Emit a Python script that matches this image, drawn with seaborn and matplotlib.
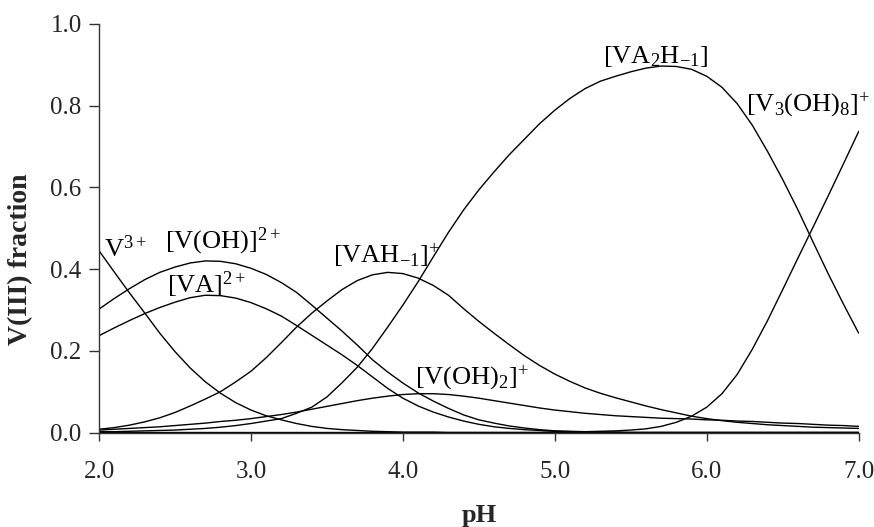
import numpy as np
import pandas as pd
import matplotlib
matplotlib.use("Agg")
import matplotlib.pyplot as plt
import seaborn as sns

# ========== PODACI (ocitano sa grafika) ==========
ph = np.round(np.linspace(2.0, 7.0, 51), 1)

v3 = [0.445, 0.393, 0.342, 0.293, 0.243, 0.198, 0.158, 0.124, 0.096, 0.073,
      0.055, 0.041, 0.031, 0.022, 0.015, 0.010, 0.007, 0.005, 0.003, 0.002,
      0.001, 0.001, 0.001, 0.0, 0.0, 0.0, 0.0, 0.0, 0.0, 0.0,
      0.0, 0.0, 0.0, 0.0, 0.0, 0.0, 0.0, 0.0, 0.0, 0.0,
      0.0, 0.0, 0.0, 0.0, 0.0, 0.0, 0.0, 0.0, 0.0, 0.0, 0.0]

voh = [0.302, 0.328, 0.352, 0.374, 0.392, 0.405, 0.415, 0.420, 0.419, 0.413,
       0.402, 0.387, 0.367, 0.343, 0.312, 0.280, 0.248, 0.214, 0.178, 0.148,
       0.121, 0.097, 0.077, 0.059, 0.043, 0.031, 0.023, 0.016, 0.011, 0.007,
       0.004, 0.003, 0.002, 0.001, 0.001, 0.0, 0.0, 0.0, 0.0, 0.0,
       0.0, 0.0, 0.0, 0.0, 0.0, 0.0, 0.0, 0.0, 0.0, 0.0, 0.0]

va = [0.237, 0.256, 0.274, 0.291, 0.306, 0.319, 0.330, 0.336, 0.335, 0.329,
      0.318, 0.303, 0.285, 0.262, 0.238, 0.214, 0.190, 0.164, 0.136, 0.108,
      0.084, 0.065, 0.050, 0.038, 0.028, 0.020, 0.014, 0.010, 0.007, 0.005,
      0.003, 0.002, 0.001, 0.001, 0.0, 0.0, 0.0, 0.0, 0.0, 0.0,
      0.0, 0.0, 0.0, 0.0, 0.0, 0.0, 0.0, 0.0, 0.0, 0.0, 0.0]

vah = [0.008, 0.012, 0.018, 0.026, 0.036, 0.049, 0.065, 0.082, 0.100, 0.124,
       0.150, 0.183, 0.220, 0.258, 0.292, 0.322, 0.350, 0.372, 0.386, 0.392,
       0.389, 0.378, 0.360, 0.336, 0.303, 0.272, 0.243, 0.215, 0.188, 0.164,
       0.143, 0.125, 0.109, 0.096, 0.085, 0.075, 0.065, 0.056, 0.048, 0.040,
       0.034, 0.029, 0.025, 0.022, 0.019, 0.017, 0.015, 0.013, 0.012, 0.011, 0.010]

voh2 = [0.006, 0.008, 0.010, 0.012, 0.014, 0.017, 0.020, 0.023, 0.027, 0.030,
        0.034, 0.039, 0.044, 0.050, 0.057, 0.064, 0.071, 0.078, 0.084, 0.089,
        0.093, 0.095, 0.095, 0.093, 0.089, 0.084, 0.078, 0.072, 0.066, 0.060,
        0.055, 0.051, 0.047, 0.044, 0.041, 0.039, 0.037, 0.035, 0.034, 0.033,
        0.031, 0.030, 0.028, 0.027, 0.025, 0.023, 0.022, 0.020, 0.018, 0.017, 0.015]

va2h = [0.002, 0.002, 0.003, 0.004, 0.005, 0.006, 0.008, 0.010, 0.013, 0.017,
        0.022, 0.028, 0.034, 0.047, 0.062, 0.087, 0.122, 0.160, 0.206, 0.258,
        0.312, 0.369, 0.430, 0.490, 0.545, 0.594, 0.638, 0.680, 0.718, 0.756,
        0.789, 0.818, 0.842, 0.860, 0.872, 0.883, 0.892, 0.897, 0.896, 0.889,
        0.872, 0.845, 0.805, 0.752, 0.688, 0.619, 0.545, 0.466, 0.388, 0.314, 0.243]

v3oh8 = [0.0, 0.0, 0.0, 0.0, 0.0, 0.0, 0.0, 0.0, 0.0, 0.0,
         0.0, 0.0, 0.0, 0.0, 0.0, 0.0, 0.0, 0.0, 0.0, 0.0,
         0.0, 0.0, 0.0, 0.0, 0.0, 0.0, 0.0, 0.0, 0.0, 0.0,
         0.001, 0.001, 0.002, 0.003, 0.004, 0.006, 0.009, 0.015, 0.025, 0.040,
         0.062, 0.095, 0.142, 0.204, 0.274, 0.350, 0.427, 0.503, 0.580, 0.658, 0.737]

# oznake vrsta i gde stoje (pH, udeo)
species_labels = [r"V$^{3+}$", r"[V(OH)]$^{2+}$", r"[VA]$^{2+}$", r"[VAH$_{\mathregular{-1}}$]$^{+}$",
                  r"[V(OH)$_2$]$^{+}$", r"[VA$_2$H$_{\mathregular{-1}}$]", r"[V$_3$(OH)$_8$]$^{+}$"]
label_pos = [(2.03, 0.431), (2.436, 0.451), (2.447, 0.341), (3.54, 0.413),
             (4.08, 0.118), (5.32, 0.905), (6.26, 0.786)]

x_ticks = [2.0, 3.0, 4.0, 5.0, 6.0, 7.0]
y_ticks = [0.0, 0.2, 0.4, 0.6, 0.8, 1.0]

df = pd.DataFrame({"pH": ph, "V3": v3, "VOH": voh, "VA": va, "VAH": vah,
                   "VOH2": voh2, "VA2H": va2h, "V3OH8": v3oh8})
long = df.melt(id_vars="pH", var_name="species", value_name="fraction")

# ========== STIL ==========
sns.set_style("ticks")
plt.rcParams["font.family"] = ["Liberation Serif", "DejaVu Serif"]
plt.rcParams["mathtext.fontset"] = "custom"
plt.rcParams["mathtext.rm"] = "Liberation Serif"
plt.rcParams["mathtext.it"] = "Liberation Serif:italic"
plt.rcParams["mathtext.bf"] = "Liberation Serif:bold"

fig = plt.figure(figsize=(8.74, 5.27), dpi=100)
ax = fig.add_axes([0.1133, 0.1793, 0.8692, 0.7752])

sns.lineplot(data=long, x="pH", y="fraction", hue="species",
             palette=["black"] * 7, linewidth=1.0, legend=False, ax=ax)

for txt, (x, y) in zip(species_labels, label_pos):
    ax.text(x, y, txt, fontsize=19, ha="left", va="baseline", color="black")

ax.set_xlim(2.0, 7.0)
ax.set_ylim(0.0, 1.0)
ax.set_xticks(x_ticks)
ax.set_yticks(y_ticks)
ax.set_xticklabels([f"{t:.1f}" for t in x_ticks])
ax.set_yticklabels([f"{t:.1f}" for t in y_ticks])
ax.tick_params(axis="x", direction="out", length=6, width=1, pad=14.5,
               labelsize=18, color="#333333")
ax.tick_params(axis="y", direction="out", length=7.5, width=1, pad=5,
               labelsize=18, color="#333333")

sns.despine(ax=ax)
for s in ["left", "bottom"]:
    ax.spines[s].set_color("#333333")
    ax.spines[s].set_linewidth(1.0)

ax.set_xlabel("pH", fontsize=19, fontweight="bold")
ax.set_ylabel("V(III) fraction", fontsize=20, fontweight="bold")
ax.xaxis.set_label_coords(0.5, -0.175)
ax.yaxis.set_label_coords(-0.087, 0.425)

fig.savefig("out.png", dpi=100)
plt.close(fig)
